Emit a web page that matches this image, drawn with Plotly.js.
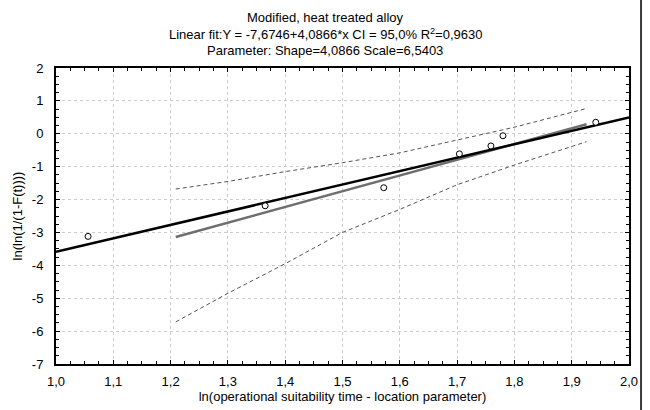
<!DOCTYPE html>
<html>
<head>
<meta charset="utf-8">
<script src="https://cdn.plot.ly/plotly-3.0.1.min.js"></script>
<style>html,body{margin:0;padding:0;background:#fff;}#chart{width:650px;height:410px;}</style>
</head>
<body>
<div id="chart"></div>
<script>
// Observed points
const pointsX = [1.056, 1.365, 1.572, 1.704, 1.759, 1.780, 1.942];
const pointsY = [-3.12, -2.19, -1.64, -0.61, -0.37, -0.06, 0.35];
// Linear fit line (black)
const fitX = [1.0, 2.0];
const fitY = [-3.588, 0.499];
// Second line (gray)
const grayX = [1.209, 1.926];
const grayY = [-3.14, 0.29];
// Confidence bands (dashed)
const ciX = [1.209, 1.30, 1.40, 1.50, 1.60, 1.70, 1.80, 1.926];
const ciUpper = [-1.68, -1.45, -1.15, -0.88, -0.58, -0.18, 0.20, 0.77];
const ciLower = [-5.72, -4.85, -3.95, -3.00, -2.30, -1.55, -0.95, -0.24];
// Ticks
const xTickVals = [1.0, 1.1, 1.2, 1.3, 1.4, 1.5, 1.6, 1.7, 1.8, 1.9, 2.0];
const xTickText = ["1,0", "1,1", "1,2", "1,3", "1,4", "1,5", "1,6", "1,7", "1,8", "1,9", "2,0"];
const yTickVals = [-7, -6, -5, -4, -3, -2, -1, 0, 1, 2];
const yTickText = ["-7", "-6", "-5", "-4", "-3", "-2", "-1", "0", "1", "2"];
// Titles
const titleLines = [
  "Modified, heat treated alloy",
  "Linear fit:Y = -7,6746+4,0866*x CI = 95,0% R<sup>2</sup>=0,9630",
  "Parameter: Shape=4,0866 Scale=6,5403"
];
const xTitle = "ln(operational suitability time - location parameter)";
const yTitle = "ln(ln(1/(1-F(t))))";

const font = {family: "Liberation Sans, Arial, sans-serif", size: 13, color: "#000"};

const traces = [
  {x: ciX, y: ciUpper, mode: "lines", line: {color: "#555", width: 1, dash: "4px,3px"}, hoverinfo: "skip"},
  {x: ciX, y: ciLower, mode: "lines", line: {color: "#555", width: 1, dash: "4px,3px"}, hoverinfo: "skip"},
  {x: grayX, y: grayY, mode: "lines", line: {color: "#6e6e6e", width: 2.5}},
  {x: fitX, y: fitY, mode: "lines", line: {color: "#000", width: 2.5}},
  {x: pointsX, y: pointsY, mode: "markers", marker: {symbol: "circle", size: 6, color: "#fff", line: {color: "#000", width: 1}}}
];

const axisCommon = {
  showline: true, linecolor: "#000", linewidth: 2, mirror: "allticks",
  ticks: "inside", ticklen: 4, tickcolor: "#000", tickwidth: 1,
  showgrid: true, gridcolor: "#cccccc", griddash: "dot", gridwidth: 1,
  zeroline: false, tickfont: font
};

const annotations = titleLines.map((t, i) => ({
  text: t, xref: "paper", yref: "paper", x: 0.4695, y: [1.172, 1.116, 1.060][i],
  xanchor: "center", yanchor: "middle", showarrow: false, font: font
}));

const layout = {
  width: 650, height: 410,
  margin: {l: 56, r: 21, t: 68, b: 46},
  paper_bgcolor: "#fff", plot_bgcolor: "#fff",
  showlegend: false,
  font: font,
  xaxis: Object.assign({}, axisCommon, {
    range: [1.0, 2.0], tickvals: xTickVals, ticktext: xTickText,
    ticklabelstandoff: 4,
    minor: {dtick: 0.025, tick0: 1.0, ticks: "inside", ticklen: 3, tickcolor: "#000", showgrid: false},
    title: {text: xTitle, font: font, standoff: 3}
  }),
  yaxis: Object.assign({}, axisCommon, {
    range: [-7, 2], tickvals: yTickVals, ticktext: yTickText,
    ticklabelstandoff: 8,
    minor: {dtick: 0.25, tick0: 0, ticks: "inside", ticklen: 3, tickcolor: "#000", showgrid: false},
    title: {text: yTitle, font: font, standoff: 6}
  }),
  annotations: annotations,
  shapes: [
    {type: "line", xref: "paper", yref: "paper", x0: 1.021, x1: 1.021, y0: -0.16, y1: 1.24,
     line: {color: "#3a3a3a", width: 2}}
  ]
};

Plotly.newPlot("chart", traces, layout, {displayModeBar: false, staticPlot: true});
</script>
</body>
</html>
